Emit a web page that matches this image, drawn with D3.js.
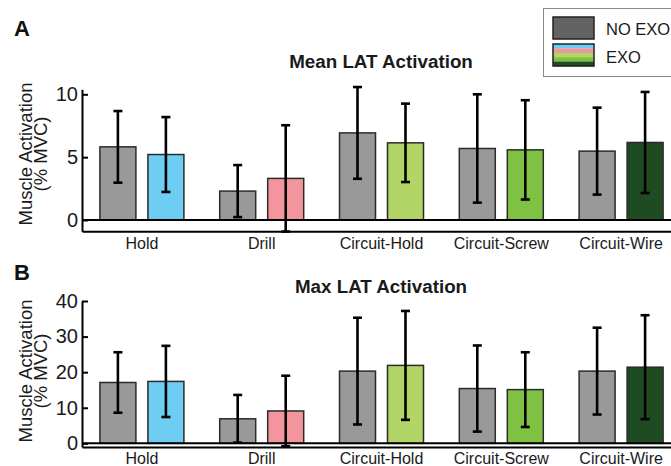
<!DOCTYPE html>
<html><head><meta charset="utf-8">
<script src="https://cdn.jsdelivr.net/npm/d3@7"></script>
<style>
html,body{margin:0;padding:0;background:#fff;}
svg{display:block;font-family:"Liberation Sans",Arial,sans-serif;}
</style></head>
<body>
<script>
const categories = ["Hold","Drill","Circuit-Hold","Circuit-Screw","Circuit-Wire"];
const conditions = ["NO EXO","EXO"];
const exoColors = ["#6dcdf3","#f3959c","#b2d567","#7fc142","#1f4b22"];
const noExoColor = "#999999";

// Panel A: Mean LAT Activation (% MVC)
const meanNoExo    = [5.82, 2.30, 6.93, 5.69, 5.48];
const meanNoExoSD  = [2.85, 2.07, 3.65, 4.31, 3.46];
const meanExo      = [5.21, 3.31, 6.14, 5.58, 6.17];
const meanExoSD    = [2.98, 4.23, 3.12, 3.95, 4.02];

// Panel B: Max LAT Activation (% MVC)
const maxNoExo     = [17.1, 6.9, 20.3, 15.4, 20.3];
const maxNoExoSD   = [8.5, 6.7, 15.0, 12.1, 12.2];
const maxExo       = [17.4, 9.1, 21.9, 15.1, 21.4];
const maxExoSD     = [10.0, 9.9, 15.3, 10.5, 14.6];

const meanTicks = [0, 5, 10];
const maxTicks = [0, 10, 20, 30, 40];

const W = 671, H = 466;
const svg = d3.select("body").append("svg").attr("width", W).attr("height", H);

const x = d3.scaleBand().domain(categories).range([82, 681]).padding(0);
const xs = d3.scaleBand().domain(conditions).range([-48, 48]).paddingInner(0.25).paddingOuter(0.125);

function panel(opts) {
  const {y, noExo, noSD, exo, exoSD, ticks, title, titleY, letter, letterY, labelY} = opts;
  const g = svg.append("g");
  const rows = categories.map((c, i) => [
    {cat: c, cond: "NO EXO", v: noExo[i], sd: noSD[i], color: noExoColor},
    {cat: c, cond: "EXO", v: exo[i], sd: exoSD[i], color: exoColors[i]}
  ]).flat();
  const cx = d => x(d.cat) + x.bandwidth() / 2 + xs(d.cond);

  // bars
  g.selectAll("rect.bar").data(rows).join("rect")
    .attr("class", "bar")
    .attr("x", cx)
    .attr("width", xs.bandwidth())
    .attr("y", d => y(d.v))
    .attr("height", d => y(0) - y(d.v))
    .attr("fill", d => d.color)
    .attr("stroke", "#2b2b2b").attr("stroke-width", 1.5);

  // error bars
  const eb = g.selectAll("g.err").data(rows).join("g").attr("class", "err")
    .attr("transform", d => `translate(${cx(d) + xs.bandwidth() / 2},0)`);
  eb.append("line").attr("y1", d => y(d.v + d.sd)).attr("y2", d => y(d.v - d.sd))
    .attr("stroke", "#000").attr("stroke-width", 2.6);
  eb.append("line").attr("x1", -4.5).attr("x2", 4.5)
    .attr("y1", d => y(d.v + d.sd)).attr("y2", d => y(d.v + d.sd))
    .attr("stroke", "#000").attr("stroke-width", 2.6);
  eb.append("line").attr("x1", -4.5).attr("x2", 4.5)
    .attr("y1", d => y(d.v - d.sd)).attr("y2", d => y(d.v - d.sd))
    .attr("stroke", "#000").attr("stroke-width", 2.6);

  // zero line
  g.append("line").attr("x1", 82).attr("x2", W).attr("y1", y(0)).attr("y2", y(0))
    .attr("stroke", "#000").attr("stroke-width", 2);

  // y axis
  const ya = g.append("g").attr("transform", "translate(82,0)")
    .call(d3.axisLeft(y).tickValues(ticks).tickSizeInner(-6).tickSizeOuter(0).tickPadding(4));
  ya.select(".domain").attr("stroke", "#000").attr("stroke-width", 2);
  ya.selectAll(".tick line").attr("stroke", "#000").attr("stroke-width", 2);
  ya.selectAll(".tick text").attr("font-size", 20).attr("fill", "#1a1a1a")
    .attr("font-family", "Liberation Sans, Arial, sans-serif");

  // x axis
  const yMin = y.domain()[0];
  const xa = g.append("g").attr("transform", `translate(0,${y(yMin)})`)
    .call(d3.axisBottom(x).tickSize(0).tickPadding(6));
  xa.select(".domain").attr("stroke", "#000").attr("stroke-width", 2);
  xa.selectAll(".tick text").attr("font-size", 16).attr("fill", "#1a1a1a")
    .attr("font-family", "Liberation Sans, Arial, sans-serif");

  // y label
  const lab = g.append("text").attr("transform", `translate(0,${labelY}) rotate(-90)`)
    .attr("text-anchor", "middle").attr("font-size", 18.5).attr("fill", "#1a1a1a");
  lab.append("tspan").attr("x", 0).attr("y", 32).text("Muscle Activation");
  lab.append("tspan").attr("x", 0).attr("y", 47).text("(% MVC)");

  // title
  g.append("text").attr("x", 381).attr("y", titleY).attr("text-anchor", "middle")
    .attr("font-size", 18.8).attr("font-weight", "bold").attr("fill", "#1a1a1a").text(title);
  g.append("text").attr("x", 14).attr("y", letterY)
    .attr("font-size", 22).attr("font-weight", "bold").attr("fill", "#111").text(letter);
}

const yA = d3.scaleLinear().domain([-0.9, 10.4]).range([231.3, 89.3]);
const yB = d3.scaleLinear().domain([-1, 40]).range([446.9, 301]);

panel({y: yA, noExo: meanNoExo, noSD: meanNoExoSD, exo: meanExo, exoSD: meanExoSD,
  ticks: meanTicks, title: "Mean LAT Activation", titleY: 68, letter: "A", letterY: 36, labelY: 154});
panel({y: yB, noExo: maxNoExo, noSD: maxNoExoSD, exo: maxExo, exoSD: maxExoSD,
  ticks: maxTicks, title: "Max LAT Activation", titleY: 293, letter: "B", letterY: 280, labelY: 371});

// legend
const lg = svg.append("g");
lg.append("rect").attr("x", 543.5).attr("y", 8.5).attr("width", 140).attr("height", 68)
  .attr("fill", "#fff").attr("stroke", "#8a8a8a").attr("stroke-width", 1);
lg.append("rect").attr("x", 553).attr("y", 17).attr("width", 41).attr("height", 22)
  .attr("fill", "#636363").attr("stroke", "#222").attr("stroke-width", 1.5);
const sh = 22 / exoColors.length;
lg.selectAll("rect.stripe").data(exoColors).join("rect").attr("class", "stripe")
  .attr("x", 553).attr("width", 41)
  .attr("y", (d, i) => 44 + i * sh).attr("height", sh + 0.2)
  .attr("fill", d => d);
lg.append("rect").attr("x", 553).attr("y", 44).attr("width", 41).attr("height", 22)
  .attr("fill", "none").attr("stroke", "#222").attr("stroke-width", 1.5);
lg.append("text").attr("x", 606).attr("y", 35).attr("font-size", 16.5).attr("fill", "#1a1a1a").text(conditions[0]);
lg.append("text").attr("x", 606).attr("y", 63).attr("font-size", 16.5).attr("fill", "#1a1a1a").text(conditions[1]);
</script>
</body></html>
